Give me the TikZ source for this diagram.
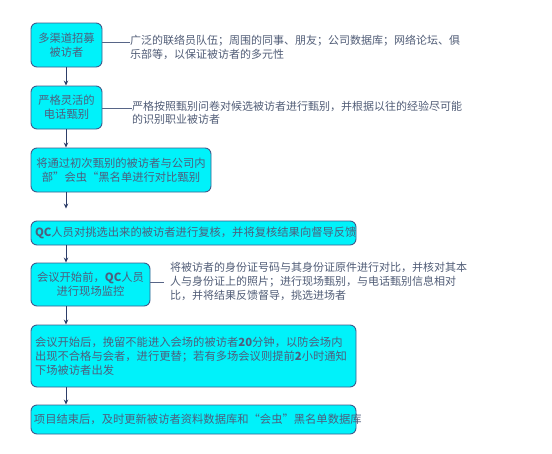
\documentclass[tikz,border=0pt]{standalone}
\usepackage{fontspec}
\setmainfont{Noto Sans CJK SC}
\usetikzlibrary{arrows.meta}
\definecolor{boxfill}{RGB}{0,242,250}
\definecolor{boxline}{RGB}{62,92,140}
\definecolor{boxtext}{RGB}{78,94,125}
\definecolor{sidetext}{RGB}{80,92,118}
\definecolor{arrowc}{RGB}{45,62,105}
\tikzset{
  box/.style={draw=boxline, line width=0.9pt, fill=boxfill, rounded corners=6pt,
    text=boxtext, font=\fontsize{11.3}{14}\selectfont, inner sep=3pt, align=center},
  lbox/.style={box, align=left, inner xsep=4pt},
  side/.style={text=sidetext, font=\fontsize{11}{13.6}\selectfont, align=left, inner sep=0pt, anchor=west},
  flow/.style={draw=arrowc, line width=0.8pt, -{Stealth[length=5pt,width=4.5pt]}},
  link/.style={draw=arrowc!80, line width=0.7pt}
}
\begin{document}
\begin{tikzpicture}[x=1pt,y=-1pt]
\useasboundingbox (0,0) rectangle (552,453);
\node[box, minimum width=71pt, minimum height=44pt] (b1) at (66.5,45) {多渠道招募\\被访者};
\node[box, minimum width=71pt, minimum height=43pt] (b2) at (66.5,107.5) {严格灵活的\\电话甄别};
\node[box, minimum width=180pt, minimum height=44pt] (b3) at (121,170) {将通过初次甄别的被访者与公司内\\部”会虫“黑名单进行对比甄别};
\node[lbox, minimum width=325pt, text width=317pt, minimum height=24pt] (b4) at (193.5,233) {\textbf{QC}人员对挑选出来的被访者进行复核，并将复核结果向督导反馈};
\node[box, minimum width=119pt, minimum height=43pt] (b5) at (90.5,284.5) {会议开始前，\textbf{QC}人员\\进行现场监控};
\node[lbox, minimum width=325pt, text width=317pt, minimum height=62pt] (b6) at (193.5,356) {会议开始后，挽留不能进入会场的被访者\textbf{20}分钟，以防会场内\\出现不合格与会者，进行更替；若有多场会议则提前\textbf{2}小时通知\\下场被访者出发};
\node[lbox, minimum width=325pt, text width=319pt, inner xsep=3pt, minimum height=29pt] (b7) at (193.5,419.5) {项目结束后，及时更新被访者资料数据库和“会虫”黑名单数据库};

\node[side] (t1) at (130,47.5) {广泛的联络员队伍；周围的同事、朋友；公司数据库；网络论坛、俱\\乐部等，以保证被访者的多元性};
\node[side] (t2) at (132,113) {严格按照甄别问卷对候选被访者进行甄别，并根据以往的经验尽可能\\的识别职业被访者};
\node[side] (t5) at (170,281.5) {将被访者的身份证号码与其身份证原件进行对比，并核对其本\\人与身份证上的照片；进行现场甄别，与电话甄别信息相对\\比，并将结果反馈督导，挑选进场者};

\draw[link] (b1.east |- 0,42) -- (t1.west |- 0,42);
\draw[link] (b2.east |- 0,108) -- (t2.west |- 0,108);
\draw[link] (b5.east |- 0,282) -- ([xshift=-6pt]t5.west |- 0,282);

\draw[flow] (b1.south -| 66,0) -- (b2.north -| 66,0);
\draw[flow] (b2.south -| 66,0) -- (b3.north -| 66,0);
\draw[flow, shorten >=12pt] (b3.south -| 66,0) -- (b4.north -| 66,0);
\draw[flow] (b4.south -| 66,0) -- (b5.north -| 66,0);
\draw[flow] (b5.south -| 66,0) -- (b6.north -| 66,0);
\draw[flow] (b6.south -| 66,0) -- (b7.north -| 66,0);
\end{tikzpicture}
\end{document}
